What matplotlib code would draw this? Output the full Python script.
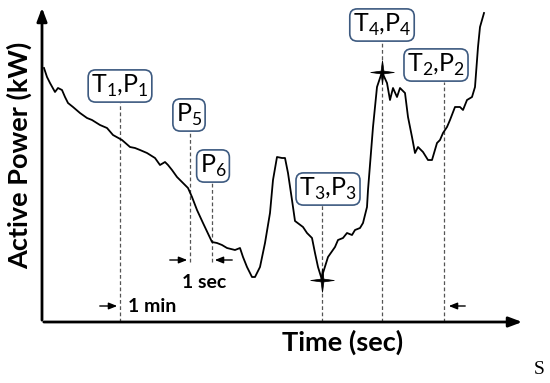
import matplotlib
matplotlib.use("Agg")
import matplotlib.pyplot as plt
from matplotlib.path import Path

plt.rcParams['font.family'] = ['Lato', 'DejaVu Sans']
plt.rcParams['mathtext.fontset'] = 'custom'
plt.rcParams['mathtext.rm'] = 'Lato'

# active power trace (arbitrary units)
time = [2, 5, 8, 13, 16, 20, 23, 26, 31, 38, 45, 50, 58, 65, 71, 80, 88, 93, 98,
        105, 113, 118, 123, 126, 130, 135, 141, 146, 150, 155, 161, 170, 175, 180,
        185, 193, 198, 201, 205, 210, 213, 218, 223, 228, 231, 235, 240, 243, 246,
        250, 253, 261, 265, 270, 273, 276, 280, 281, 286, 293, 296, 301, 305, 310,
        313, 318, 321, 325, 326, 331, 335, 338, 340, 345, 348, 351, 355, 358, 363,
        366, 370, 373, 376, 381, 386, 390, 395, 398, 401, 405, 408, 413, 418, 421,
        425, 430, 433, 436, 438, 442]
power = [254, 245, 239, 230, 234, 232, 225, 219, 215, 209, 204, 202, 197, 194, 187,
         182, 175, 174, 172, 169, 164, 157, 160, 157, 152, 145, 139, 134, 125, 112,
         99, 80, 79, 77, 74, 72, 74, 65, 55, 45, 45, 55, 79, 109, 142, 165, 164, 164,
         149, 122, 101, 95, 89, 84, 69, 55, 42, 49, 65, 75, 82, 84, 89, 87, 92, 94,
         99, 115, 132, 195, 235, 244, 250, 239, 222, 234, 225, 234, 229, 205, 185,
         169, 175, 170, 162, 162, 179, 182, 189, 195, 202, 215, 215, 212, 222, 225,
         235, 275, 295, 309]

# marked instants
labels = ['T$_\\mathregular{1}$,P$_\\mathregular{1}$', 'P$_\\mathregular{5}$',
          'P$_\\mathregular{6}$', 'T$_\\mathregular{3}$,P$_\\mathregular{3}$',
          'T$_\\mathregular{4}$,P$_\\mathregular{4}$', 'T$_\\mathregular{2}$,P$_\\mathregular{2}$']
mark_t = [78, 148, 170, 280, 340, 402]
line_lo = [0, 60, 60, 0, 0, 0]
line_hi = [219, 190, 139, 117, 280, 240]
box_t = [78, 147, 171, 286, 340, 394]
box_p = [236, 207, 156, 133, 297, 257]
star_t = [280, 340]
star_p = [42, 250]

plt.rcParams['mathtext.fontset'] = 'custom'

fig = plt.figure(figsize=(5.5, 3.83), dpi=100)
ax = fig.add_axes([42 / 550, 61 / 383, 483 / 550, 317 / 383])
ax.set_xlim(0, 483)
ax.set_ylim(0, 317)
for s in ax.spines.values():
    s.set_visible(False)
ax.set_xticks([])
ax.set_yticks([])

# axes drawn as arrows
ax.annotate('', xy=(1, 0), xytext=(-0.002, 0), xycoords='axes fraction',
            arrowprops=dict(arrowstyle='-|>,head_width=0.3,head_length=0.8', lw=2, color='black'))
ax.annotate('', xy=(0, 1), xytext=(0, -0.003), xycoords='axes fraction',
            arrowprops=dict(arrowstyle='-|>,head_width=0.3,head_length=0.8', lw=2, color='black'))

ax.plot(time, power, color='black', lw=1.3, zorder=3)

for i in range(len(mark_t)):
    ax.plot([mark_t[i], mark_t[i]], [line_lo[i], line_hi[i]], color='#555555',
            lw=0.9, ls=(0, (3, 2)), zorder=2)
    ax.text(box_t[i], box_p[i], labels[i], fontsize=18, ha='center', va='center',
            zorder=4, bbox=dict(boxstyle='round,pad=0.12,rounding_size=0.3',
                                fc='white', ec='#3d5a80', lw=1.2))

# thin four-point star
k = 0.12
star = Path([(1, 0), (k, k), (0, 1), (-k, k), (-1, 0), (-k, -k), (0, -1), (k, -k), (1, 0)],
            [Path.MOVETO] + [Path.LINETO] * 7 + [Path.CLOSEPOLY])
ax.plot(star_t, star_p, ls='none', marker=star, ms=17, color='black', mew=0.5, zorder=5)

# interval arrows
arr = dict(arrowstyle='-|>,head_width=0.2,head_length=0.5', lw=1, color='black')
ax.annotate('', xy=(148, 62), xytext=(125, 62), arrowprops=arr)
ax.annotate('', xy=(170, 62), xytext=(193, 62), arrowprops=arr)
ax.annotate('', xy=(78, 16), xytext=(55, 16), arrowprops=arr)
ax.annotate('', xy=(404, 16), xytext=(426, 16), arrowprops=arr)
ax.text(162, 39, '1 sec', fontsize=14, fontweight='bold', ha='center', va='center')
ax.text(86, 16, '1 min', fontsize=14, fontweight='bold', ha='left', va='center')

fig.text(343 / 550, 1 - 342 / 383, 'Time (sec)', fontsize=19.5, fontweight='bold',
         ha='center', va='center')
fig.text(19 / 550, 1 - 155 / 383, 'Active Power (kW)', fontsize=19.5, fontweight='bold',
         ha='center', va='center', rotation=90)
fig.text(539 / 550, 1 - 369 / 383, 'S', fontsize=14, family='Liberation Serif',
         ha='center', va='center')

fig.savefig('out.png', dpi=100)
